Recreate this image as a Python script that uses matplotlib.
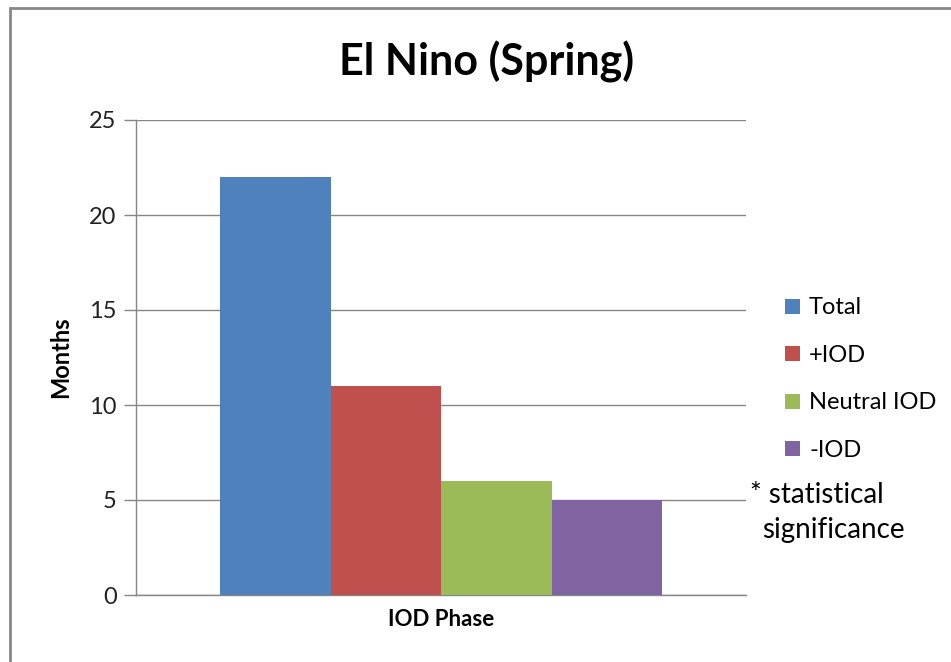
import matplotlib
matplotlib.use("Agg")
import matplotlib.pyplot as plt
from matplotlib.patches import Rectangle
import numpy as np

plt.rcParams['font.family'] = ['Lato', 'DejaVu Sans']

series = ["Total", "+IOD", "Neutral IOD", "-IOD"]
values = [22, 11, 6, 5]
colors = ["#4F81BD", "#C0504D", "#9BBB59", "#8064A2"]
category = "IOD Phase"
yticks = [0, 5, 10, 15, 20, 25]

fig = plt.figure(figsize=(9.51, 6.62), dpi=100)
ax = fig.add_axes([136/951, 67/662, 610/951, 475/662])

w = 110.5/610
offsets = (np.arange(len(series)) - (len(series)-1)/2) * w
for off, v, c, s in zip(offsets, values, colors, series):
    ax.bar(off, v, width=w, color=c, label=s, zorder=3)

ax.set_xlim(-0.5, 0.5)
ax.set_ylim(0, 25)
ax.set_yticks(yticks)
ax.set_xticks([])
ax.grid(axis='y', color='#868686', linewidth=1, zorder=0)
for sp in ['top', 'right']:
    ax.spines[sp].set_visible(False)
for sp in ['left', 'bottom']:
    ax.spines[sp].set_color('#868686')
    ax.spines[sp].set_linewidth(1)
ax.tick_params(axis='y', length=9, width=1, color='#868686', labelsize=17, pad=5, labelcolor='#222222')
ax.set_ylabel("Months", fontsize=17, fontweight='bold', labelpad=12)
ax.set_xlabel(category, fontsize=16, fontweight='bold', labelpad=10)

fig.text(487/951, 1 - 62/662, "El Nino (Spring)", fontsize=31, fontweight='bold',
         ha='center', va='center')

leg = fig.legend(loc='upper left', bbox_to_anchor=(776/951, 1 - 288/662), frameon=False,
                 fontsize=17, handlelength=0.6, handleheight=0.6, handletextpad=0.4,
                 labelspacing=1.12, borderaxespad=0)

fig.text(750/951, 1 - 495/662, "* statistical", fontsize=20, ha='left', va='center')
fig.text(762/951, 1 - 530/662, "significance", fontsize=20, ha='left', va='center')

border = Rectangle((10/951, -0.1), 1.2, 1 - 8/662 + 0.1, transform=fig.transFigure,
                   fill=False, edgecolor='#878787', linewidth=2, clip_on=False)
fig.patches.append(border)

fig.savefig("out.png", dpi=100)
